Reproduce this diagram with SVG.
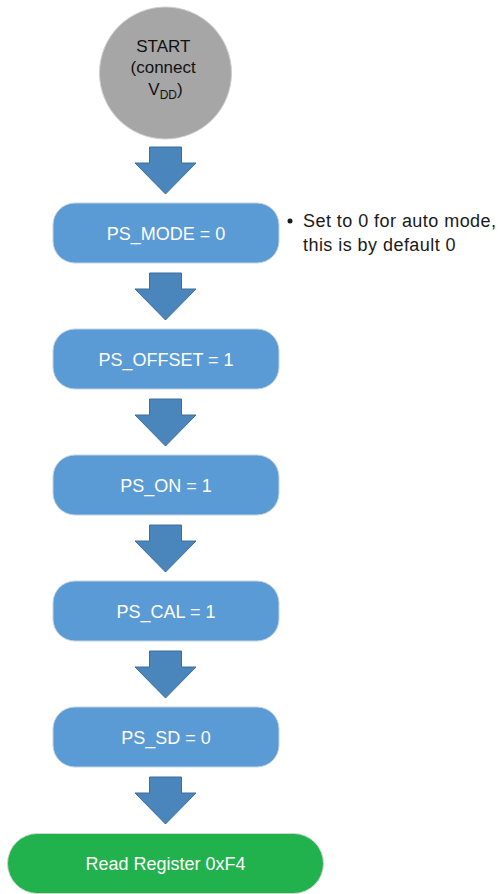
<svg xmlns="http://www.w3.org/2000/svg" width="499" height="894" viewBox="0 0 499 894">
<defs>
<style>
.box{fill:#5b9bd5;stroke:#c4d3e2;stroke-width:1}
.bt{font-family:"Liberation Sans",Arial,sans-serif;font-size:18px;fill:#ffffff;text-anchor:middle}
.arr{fill:#4a86bc;stroke:#3d6f9c;stroke-width:1}
.dt{font-family:"Liberation Sans",Arial,sans-serif;font-size:18px;fill:#1a1a1a;letter-spacing:0.45px}
</style>
<path id="arrow" d="M149.5,0 H181.5 V16 H196 L165.5,47 L135,16 H149.5 Z"/>
</defs>
<rect width="499" height="894" fill="#ffffff"/>
<g id="connectors">
<use href="#arrow" class="arr" y="147"/>
<use href="#arrow" class="arr" y="273"/>
<use href="#arrow" class="arr" y="399"/>
<use href="#arrow" class="arr" y="525"/>
<use href="#arrow" class="arr" y="651"/>
<use href="#arrow" class="arr" y="777"/>
</g>
<g id="start">
<circle cx="165.5" cy="73" r="66" fill="#a6a6a6" stroke="#cfcfcf" stroke-width="1"/>
<text font-family="'Liberation Sans',Arial,sans-serif" font-size="17" fill="#111" text-anchor="middle">
<tspan x="165.5" y="52">START</tspan>
<tspan x="165.5" y="73">(connect</tspan>
<tspan x="165.5" y="95">V<tspan font-size="12" dy="4">DD</tspan><tspan dy="-4">)</tspan></tspan>
</text>
</g>
<g id="ps_mode">
<rect class="box" x="53" y="203" width="226" height="60" rx="22"/>
<text class="bt" x="166" y="240">PS_MODE = 0</text>
</g>
<g id="note">
<circle cx="290" cy="221" r="2.5" fill="#1a1a1a"/>
<text class="dt" x="303" y="227">Set to 0 for auto mode,</text>
<text class="dt" x="303" y="251">this is by default 0</text>
</g>
<g id="ps_offset">
<rect class="box" x="53" y="329" width="226" height="60" rx="22"/>
<text class="bt" x="166" y="366">PS_OFFSET = 1</text>
</g>
<g id="ps_on">
<rect class="box" x="53" y="455" width="226" height="60" rx="22"/>
<text class="bt" x="166" y="492">PS_ON = 1</text>
</g>
<g id="ps_cal">
<rect class="box" x="53" y="581" width="226" height="60" rx="22"/>
<text class="bt" x="166" y="618">PS_CAL = 1</text>
</g>
<g id="ps_sd">
<rect class="box" x="53" y="707" width="226" height="60" rx="22"/>
<text class="bt" x="166" y="744">PS_SD = 0</text>
</g>
<g id="read">
<rect x="7.5" y="833.5" width="316" height="60" rx="30" fill="#21b14d" stroke="#d0d8d0" stroke-width="1"/>
<text class="bt" x="165.5" y="870">Read Register 0xF4</text>
</g>
</svg>
